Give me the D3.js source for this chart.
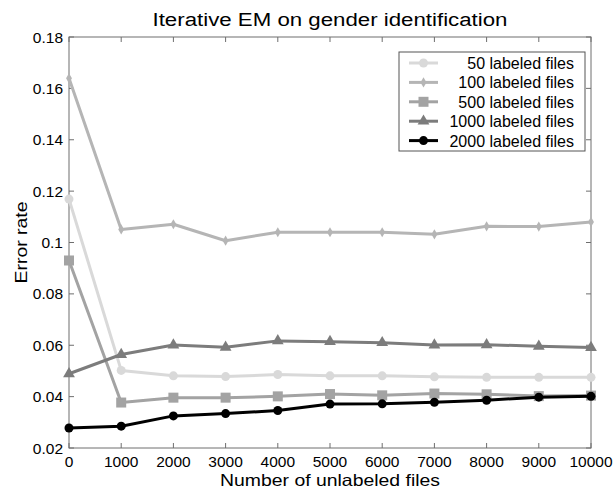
<!DOCTYPE html>
<html>
<head>
<meta charset="utf-8">
<script src="https://cdn.jsdelivr.net/npm/d3@7"></script>
<style>
  html, body { margin: 0; padding: 0; background: #fff; overflow: hidden; }
  svg { display: block; }
  text { font-family: "Liberation Sans", Arial, sans-serif; }
</style>
</head>
<body>
<svg id="chart" width="615" height="492"></svg>
<script>
// data
const unlabeled = [0, 1000, 2000, 3000, 4000, 5000, 6000, 7000, 8000, 9000, 10000]
const err50   = [0.1169, 0.0502, 0.0481, 0.0478, 0.0486, 0.0481, 0.0481, 0.0477, 0.0475, 0.0475, 0.0475]
const err100  = [0.1639, 0.1051, 0.1071, 0.1007, 0.1040, 0.1040, 0.1040, 0.1032, 0.1063, 0.1062, 0.1080]
const err500  = [0.0930, 0.0377, 0.0396, 0.0396, 0.0401, 0.0410, 0.0405, 0.0412, 0.0409, 0.0402, 0.0404]
const err1000 = [0.0489, 0.0564, 0.0601, 0.0592, 0.0617, 0.0614, 0.0610, 0.0601, 0.0602, 0.0596, 0.0591]
const err2000 = [0.0278, 0.0285, 0.0325, 0.0334, 0.0346, 0.0371, 0.0372, 0.0378, 0.0386, 0.0398, 0.0401]
const seriesNames = ["50 labeled files", "100 labeled files", "500 labeled files", "1000 labeled files", "2000 labeled files"]
const yTicks = [0.02, 0.04, 0.06, 0.08, 0.1, 0.12, 0.14, 0.16, 0.18]
const xTicks = [0, 1000, 2000, 3000, 4000, 5000, 6000, 7000, 8000, 9000, 10000]

const series = [
  { name: seriesNames[0], values: err50,   color: "#d9d9d9", marker: "circle" },
  { name: seriesNames[1], values: err100,  color: "#b5b5b5", marker: "dot" },
  { name: seriesNames[2], values: err500,  color: "#a3a3a3", marker: "square" },
  { name: seriesNames[3], values: err1000, color: "#7c7c7c", marker: "triangle" },
  { name: seriesNames[4], values: err2000, color: "#000000", marker: "circle" },
]

const margin = { top: 37, right: 24, bottom: 44, left: 69 }
const width = 615, height = 492
const innerWidth = width - margin.left - margin.right
const innerHeight = height - margin.top - margin.bottom

const svg = d3.select("#chart")
const g = svg.append("g").attr("transform", `translate(${margin.left},${margin.top})`)

const xScale = d3.scaleLinear().domain([0, 10000]).range([0, innerWidth])
const yScale = d3.scaleLinear().domain([0.02, 0.18]).range([innerHeight, 0])

const axisColor = "#6e6e6e"

// frame
g.append("rect")
  .attr("width", innerWidth).attr("height", innerHeight)
  .attr("fill", "none").attr("stroke", axisColor).attr("stroke-width", 1)

// ticks pointing inward on all four sides
const tickLen = 5
g.selectAll(".xt").data(xTicks).join("line")
  .attr("x1", d => xScale(d)).attr("x2", d => xScale(d))
  .attr("y1", innerHeight).attr("y2", innerHeight - tickLen)
  .attr("stroke", axisColor)
g.selectAll(".xtt").data(xTicks).join("line")
  .attr("x1", d => xScale(d)).attr("x2", d => xScale(d))
  .attr("y1", 0).attr("y2", tickLen)
  .attr("stroke", axisColor)
g.selectAll(".yt").data(yTicks).join("line")
  .attr("y1", d => yScale(d)).attr("y2", d => yScale(d))
  .attr("x1", 0).attr("x2", tickLen)
  .attr("stroke", axisColor)
g.selectAll(".ytr").data(yTicks).join("line")
  .attr("y1", d => yScale(d)).attr("y2", d => yScale(d))
  .attr("x1", innerWidth).attr("x2", innerWidth - tickLen)
  .attr("stroke", axisColor)

// tick labels
g.selectAll(".xl").data(xTicks).join("text")
  .attr("x", d => xScale(d)).attr("y", innerHeight + 19)
  .attr("text-anchor", "middle")
  .style("font-size", "15.5px")
  .text(d => d)
g.selectAll(".yl").data(yTicks).join("text")
  .attr("x", -6).attr("y", d => yScale(d) + 5.5)
  .attr("text-anchor", "end")
  .style("font-size", "15.5px")
  .text(d => String(+d.toFixed(2)))

// axis titles
svg.append("text")
  .attr("x", margin.left + innerWidth / 2).attr("y", 486)
  .attr("text-anchor", "middle")
  .attr("textLength", 220).attr("lengthAdjust", "spacingAndGlyphs")
  .style("font-size", "16.5px")
  .text("Number of unlabeled files")
svg.append("text")
  .attr("transform", `translate(27,${margin.top + innerHeight / 2}) rotate(-90)`)
  .attr("text-anchor", "middle")
  .attr("textLength", 82).attr("lengthAdjust", "spacingAndGlyphs")
  .style("font-size", "16.5px")
  .text("Error rate")
svg.append("text")
  .attr("x", margin.left + innerWidth / 2).attr("y", 26)
  .attr("text-anchor", "middle")
  .attr("textLength", 355).attr("lengthAdjust", "spacingAndGlyphs")
  .style("font-size", "18px")
  .text("Iterative EM on gender identification")

// lines
const line = d3.line()
  .x((d, i) => xScale(unlabeled[i]))
  .y(d => yScale(d))

function drawMarker(sel, kind, color) {
  if (kind === "circle") {
    sel.append("circle").attr("r", 4.5).attr("fill", color)
  } else if (kind === "dot") {
    sel.append("path").attr("d", d3.symbol(d3.symbolDiamond, 30)()).attr("fill", color)
  } else if (kind === "square") {
    sel.append("rect").attr("x", -5).attr("y", -5).attr("width", 10).attr("height", 10).attr("fill", color)
  } else if (kind === "triangle") {
    sel.append("path").attr("d", d3.symbol(d3.symbolTriangle, 60)()).attr("fill", color)
  }
}

series.forEach(s => {
  g.append("path")
    .attr("d", line(s.values))
    .attr("fill", "none")
    .attr("stroke", s.color)
    .attr("stroke-width", 3)
    .attr("stroke-linejoin", "round")
  const pts = g.append("g").selectAll("g").data(s.values).join("g")
    .attr("transform", (d, i) => `translate(${xScale(unlabeled[i])},${yScale(d)})`)
  drawMarker(pts, s.marker, s.color)
})

// legend
const legX = 399, legY = 52, legW = 186, legH = 99, rowH = 19.4
const legend = svg.append("g")
legend.append("rect")
  .attr("x", legX).attr("y", legY).attr("width", legW).attr("height", legH)
  .attr("fill", "#fff").attr("stroke", "#555").attr("stroke-width", 1)

series.forEach((s, i) => {
  const cy = legY + 11 + i * rowH
  legend.append("line")
    .attr("x1", legX + 10).attr("x2", legX + 39)
    .attr("y1", cy).attr("y2", cy)
    .attr("stroke", s.color).attr("stroke-width", 3)
  const m = legend.append("g").attr("transform", `translate(${legX + 24.5},${cy})`)
  drawMarker(m, s.marker, s.color)
  legend.append("text")
    .attr("x", legX + legW - 11).attr("y", cy + 6)
    .attr("text-anchor", "end")
    .style("font-size", "16px")
    .text(s.name)
})
</script>
</body>
</html>
